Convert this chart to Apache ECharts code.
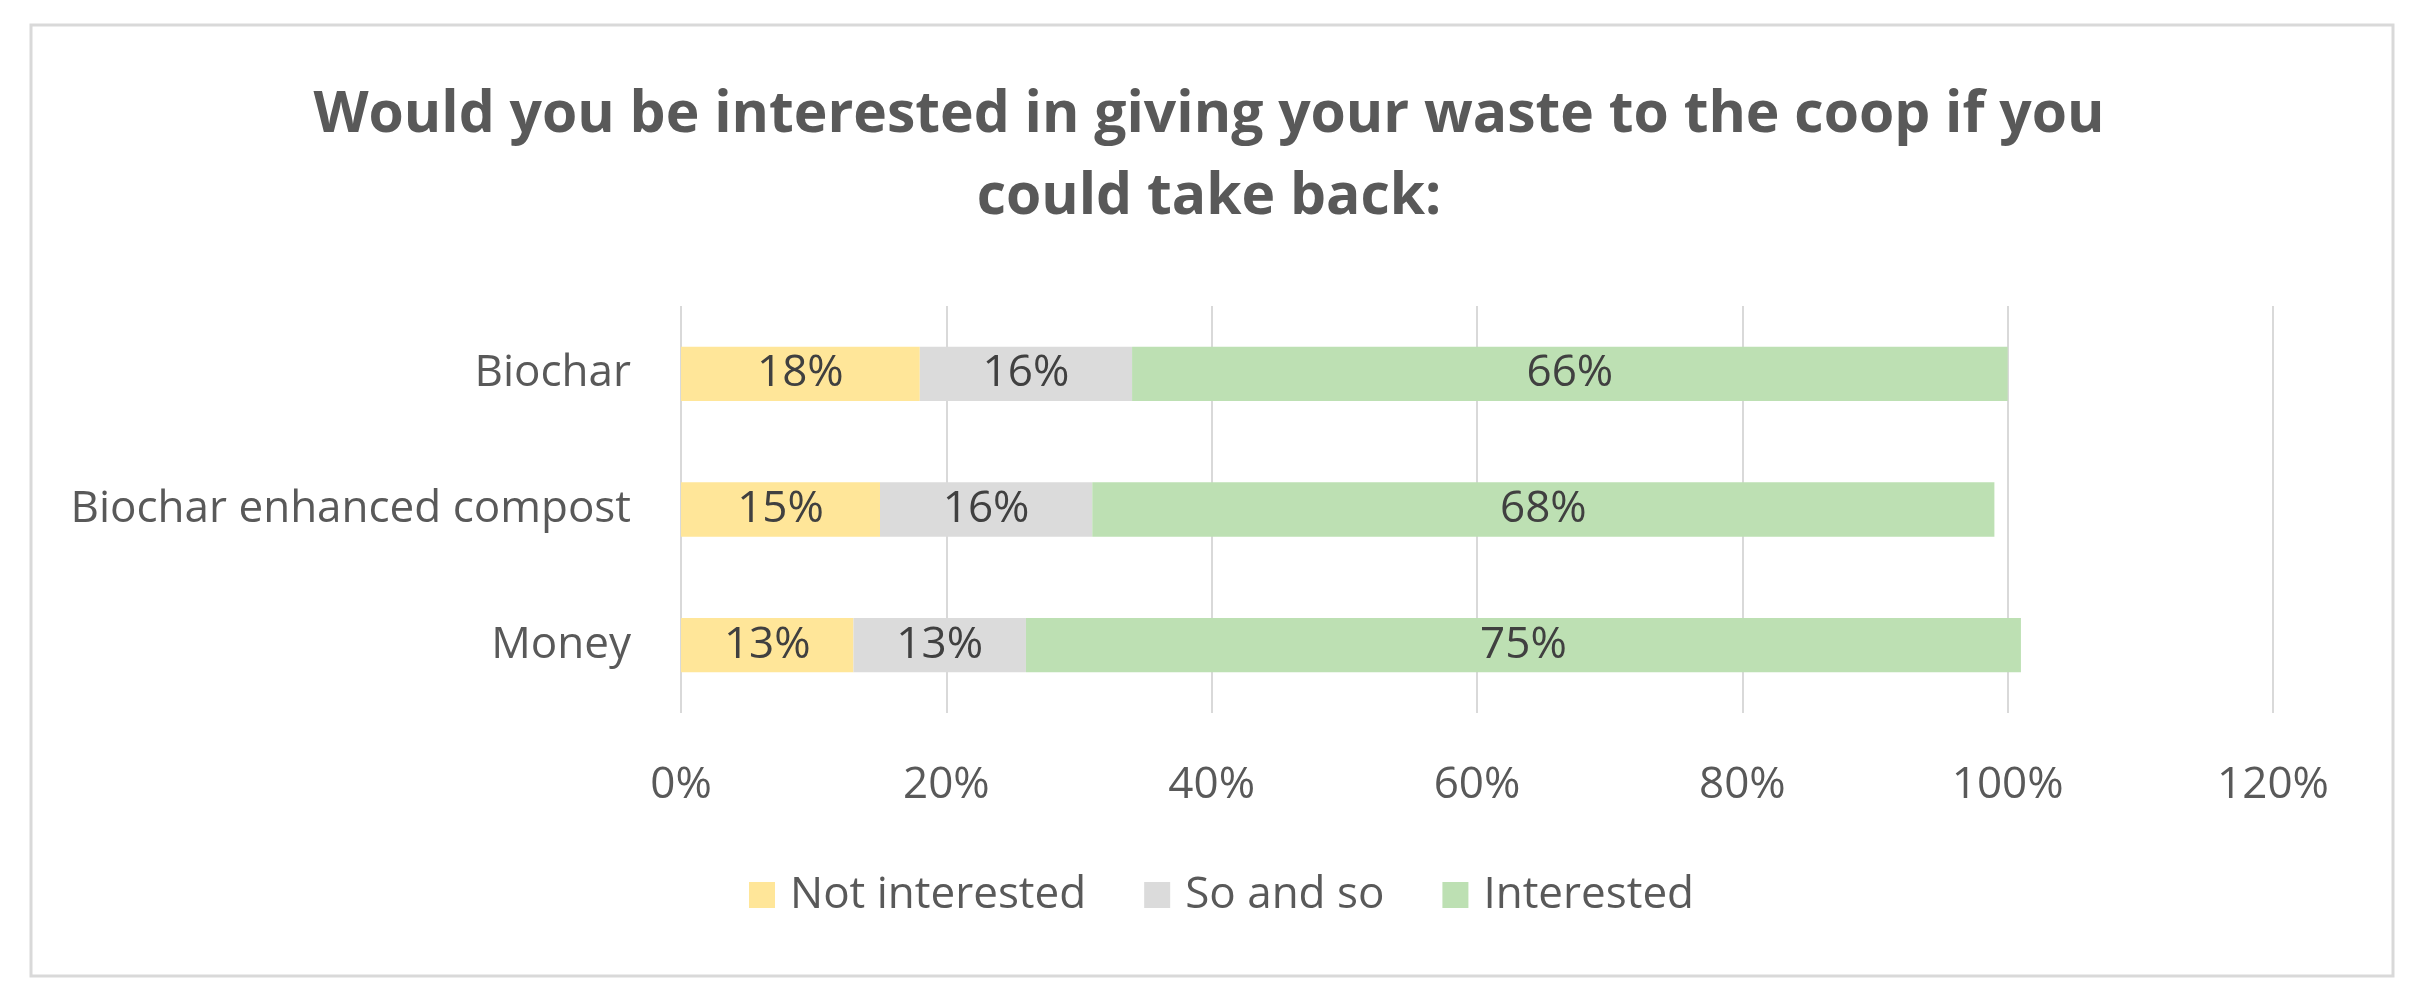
<!DOCTYPE html>
<html>
<head>
<meta charset="utf-8">
<script src="https://cdn.jsdelivr.net/npm/echarts@6/dist/echarts.min.js"></script>
<style>
html, body { margin: 0; padding: 0; background: #fff; }
#main { width: 2418px; height: 999px; }
</style>
</head>
<body>
<div id="main"></div>
<script>
var categories = ['Biochar', 'Biochar enhanced compost', 'Money'];
var notInterested = [18, 15, 13];
var soAndSo = [16, 16, 13];
var interested = [66, 68, 75];
var xTicks = { min: 0, max: 120, interval: 20 };

var font = '"Open Sans", "Noto Sans", sans-serif';

function barSeries(name, data, color) {
	return {
		name: name,
		type: 'bar',
		stack: 'total',
		barCategoryGap: '60%',
		itemStyle: { color: color },
		label: {
			show: true,
			position: 'inside',
			formatter: '{c}%',
			fontFamily: font,
			fontSize: 44,
			color: '#404040'
		},
		data: data
	};
}

var chart = echarts.init(document.getElementById('main'));
chart.setOption({
	animation: false,
	backgroundColor: '#fff',
	title: {
		text: 'Would you be interested in giving your waste to the coop if you\ncould take back:',
		left: 'center',
		top: 70,
		textStyle: {
			fontFamily: font,
			fontWeight: 'bold',
			fontSize: 57,
			lineHeight: 82,
			color: '#595959'
		}
	},
	// chart frame
	graphic: [{
		type: 'rect',
		shape: { x: 31, y: 25, width: 2362, height: 951 },
		style: { fill: 'none', stroke: '#d9d9d9', lineWidth: 3 },
		silent: true
	}],
	legend: {
		left: 744,
		top: 868,
		icon: 'rect',
		itemWidth: 26,
		itemHeight: 26,
		itemGap: 58,
		textStyle: {
			fontFamily: font,
			fontSize: 44,
			color: '#595959',
			padding: [0, 0, 0, 10]
		}
	},
	grid: { left: 681, right: 145, top: 306, bottom: 286 },
	xAxis: {
		type: 'value',
		min: xTicks.min,
		max: xTicks.max,
		interval: xTicks.interval,
		axisLine: { show: false },
		axisTick: { show: false },
		splitLine: { lineStyle: { color: '#d9d9d9', width: 2 } },
		axisLabel: {
			formatter: '{value}%',
			margin: 50,
			fontFamily: font,
			fontSize: 44,
			color: '#595959'
		}
	},
	yAxis: {
		type: 'category',
		inverse: true,
		data: categories,
		axisLine: { show: false },
		axisTick: { show: false },
		axisLabel: {
			margin: 50,
			fontFamily: font,
			fontSize: 44,
			color: '#595959'
		}
	},
	series: [
		barSeries('Not interested', notInterested, '#ffe699'),
		barSeries('So and so', soAndSo, '#dbdbdb'),
		barSeries('Interested', interested, '#bde0b3')
	]
});
</script>
</body>
</html>
